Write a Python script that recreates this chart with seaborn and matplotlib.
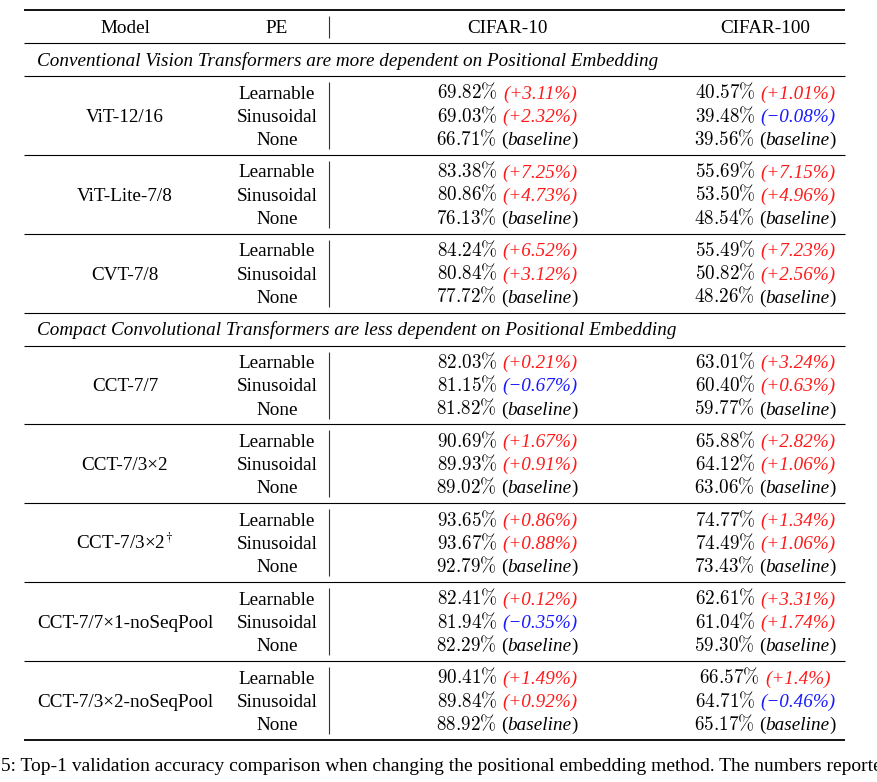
import matplotlib
matplotlib.use("Agg")
import matplotlib.pyplot as plt
import seaborn as sns

# table content
header = ["Model", "PE", "CIFAR-10", "CIFAR-100"]
sections = {0: "Conventional Vision Transformers are more dependent on Positional Embedding",
            3: "Compact Convolutional Transformers are less dependent on Positional Embedding"}
models = ["ViT-12/16", "ViT-Lite-7/8", "CVT-7/8", "CCT-7/7", "CCT-7/3×2",
          "CCT-7/3×2$^{\\dagger}$", "CCT-7/7×1-noSeqPool", "CCT-7/3×2-noSeqPool"]
pe_types = ["Learnable", "Sinusoidal", "None"]

c10 = [[69.82, 69.03, 66.71],
       [83.38, 80.86, 76.13],
       [84.24, 80.84, 77.72],
       [82.03, 81.15, 81.82],
       [90.69, 89.93, 89.02],
       [93.65, 93.67, 92.79],
       [82.41, 81.94, 82.29],
       [90.41, 89.84, 88.92]]
c10_delta = [["+3.11", "+2.32"],
             ["+7.25", "+4.73"],
             ["+6.52", "+3.12"],
             ["+0.21", "−0.67"],
             ["+1.67", "+0.91"],
             ["+0.86", "+0.88"],
             ["+0.12", "−0.35"],
             ["+1.49", "+0.92"]]
c100 = [[40.57, 39.48, 39.56],
        [55.69, 53.50, 48.54],
        [55.49, 50.82, 48.26],
        [63.01, 60.40, 59.77],
        [65.88, 64.12, 63.06],
        [74.77, 74.49, 73.43],
        [62.61, 61.04, 59.30],
        [66.57, 64.71, 65.17]]
c100_delta = [["+1.01", "−0.08"],
              ["+7.15", "+4.96"],
              ["+7.23", "+2.56"],
              ["+3.24", "+0.63"],
              ["+2.82", "+1.06"],
              ["+1.34", "+1.06"],
              ["+3.31", "+1.74"],
              ["+1.4", "−0.46"]]
caption = ("5: Top-1 validation accuracy comparison when changing the positional "
           "embedding method. The numbers reported")

sns.set_theme(style="white")
plt.rcParams['font.family'] = ['Liberation Serif', 'DejaVu Serif']
plt.rcParams['mathtext.fontset'] = 'cm'
plt.rcParams['text.color'] = 'black'

FS = 13.8
W, H = 878, 782
fig = plt.figure(figsize=(W / 100, H / 100), dpi=100)
ax = fig.add_axes([0, 0, 1, 1])
ax.set_xlim(0, W)
ax.set_ylim(H, 0)
ax.axis("off")

col_x = [125, 277, 507, 765]
vline_x = 329
x0, x1 = 24, 845
BASE = 6.3  # baseline offset from row centre
renderer = fig.canvas.get_renderer()


def put_cell(xc, yc, pieces):
    # pieces: (text, style dict, gap after)
    txts = [ax.text(0, yc + BASE, s, ha="left", va="baseline", fontsize=FS, **kw)
            for s, kw, g in pieces]
    ws = [t.get_window_extent(renderer).width for t in txts]
    total = sum(ws) + sum(g for _, _, g in pieces[:-1])
    x = xc - total / 2
    for t, w, p in zip(txts, ws, pieces):
        t.set_x(x)
        x += w + p[2]


def value_cell(v, d):
    num = (f"${v:.2f}\\%$", {}, 5)
    if d is None:
        return [num, ("(", {}, 0), ("baseline", {"style": "italic"}, 0), (")", {}, 0)]
    col = "#ff1a1a" if d.startswith("+") else "#1a1aff"
    return [num, (f"({d}%)", {"style": "italic", "color": col}, 0)]


# header
ax.hlines(10, x0, x1, color="black", lw=1.3)
for x, h in zip(col_x, header):
    ax.text(x, 26.5 + BASE, h, ha="center", va="baseline", fontsize=FS)
ax.vlines(vline_x, 16, 38, color="#333333", lw=0.8)
y = 43
ax.hlines(y, x0, x1, color="black", lw=0.8)

for gi, m in enumerate(models):
    if gi in sections:
        ax.text(37, y + 16.5 + BASE, sections[gi], ha="left", va="baseline",
                fontsize=FS, style="italic")
        y += 33
        ax.hlines(y, x0, x1, color="black", lw=0.8)
    rows = [y + 16.3 + k * 23.2 for k in range(3)]
    ax.text(col_x[0], rows[1] + BASE, m, ha="center", va="baseline", fontsize=FS)
    for k, pe in enumerate(pe_types):
        ax.text(col_x[1], rows[k] + BASE, pe, ha="center", va="baseline", fontsize=FS)
        d10 = c10_delta[gi][k] if k < 2 else None
        d100 = c100_delta[gi][k] if k < 2 else None
        put_cell(col_x[2], rows[k], value_cell(c10[gi][k], d10))
        put_cell(col_x[3], rows[k], value_cell(c100[gi][k], d100))
    ax.vlines(vline_x, y + 6, y + 73, color="#333333", lw=0.8)
    y += 78.85
    last = gi == len(models) - 1
    ax.hlines(y, x0, x1, color="black", lw=1.3 if last else 0.8)

# caption runs past the right edge, as in the source page
ax.text(1, 771, caption, ha="left", va="baseline", fontsize=14.0)

fig.savefig("out.png", dpi=100)
